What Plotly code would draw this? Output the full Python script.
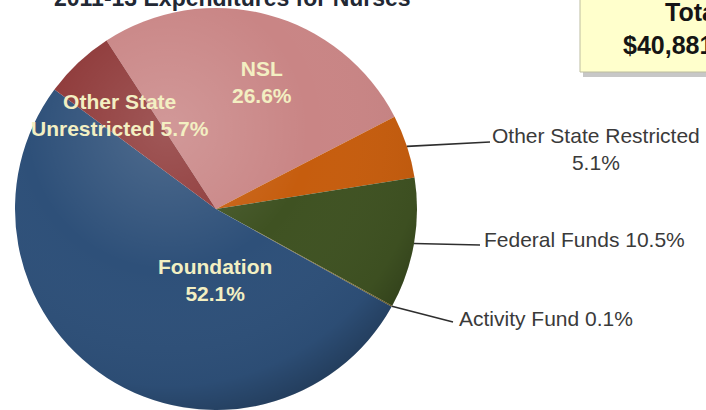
import math
import base64
import plotly.graph_objects as go

# ---- data ----
labels = ["NSL", "Other State Restricted", "Federal Funds", "Activity Fund",
          "Foundation", "Other State Unrestricted"]
values = [26.6, 5.1, 10.5, 0.1, 52.1, 5.7]
colors = ["#C98585", "#C65D0E", "#3F5222", "#7B6A2A", "#2E5079", "#8E3838"]
title_text = "2011-13 Expenditures for Nurses"
total_label = "Total"
total_value = "$40,881"

W, H = 706, 410
CX, CY, R = 216, 209, 201
ROT = -33

def px(x):
    return x / W

def py(y):
    return 1 - y / H

fig = go.Figure()
fig.add_trace(go.Pie(
    labels=labels, values=values, sort=False, direction="clockwise",
    rotation=ROT, marker=dict(colors=colors, line=dict(width=0)),
    textinfo="none", hoverinfo="label+percent", showlegend=False,
    domain=dict(x=[px(CX - R), px(CX + R)], y=[py(CY + R), py(CY - R)]),
))

# subtle 3D shading overlay on the pie
svg = ('<svg xmlns="http://www.w3.org/2000/svg" viewBox="0 0 100 100" preserveAspectRatio="none">'
       '<defs><radialGradient id="g" cx="0.38" cy="0.3" r="0.78">'
       '<stop offset="0" stop-color="#ffffff" stop-opacity="0.16"/>'
       '<stop offset="0.45" stop-color="#ffffff" stop-opacity="0.0"/>'
       '<stop offset="0.82" stop-color="#000000" stop-opacity="0.04"/>'
       '<stop offset="1" stop-color="#000000" stop-opacity="0.32"/>'
       '</radialGradient></defs>'
       '<circle cx="50" cy="50" r="50" fill="url(#g)"/></svg>')
img_src = "data:image/svg+xml;base64," + base64.b64encode(svg.encode()).decode()
fig.add_layout_image(dict(source=img_src, xref="paper", yref="paper",
                          x=px(CX - R), y=py(CY - R), sizex=2 * R / W, sizey=2 * R / H,
                          xanchor="left", yanchor="top", sizing="stretch", layer="above"))

# slice mid-angles computed from data
total = sum(values)
mids = {}
a = ROT
for lab, v in zip(labels, values):
    span = v / total * 360
    mids[lab] = a + span / 2
    a += span

def edge_pt(lab, f=1.0):
    ang = math.radians(mids[lab])
    return CX + R * f * math.sin(ang), CY - R * f * math.cos(ang)

annotations = []
shapes = []

inside_font = dict(family="Liberation Sans, Arial", size=21, color="#F3EFC2")
inside = [
    ("NSL", "NSL<br>" + f"{values[0]}%", 262, 82),
    ("Foundation", "Foundation<br>" + f"{values[4]}%", 215, 280),
    ("Other State Unrestricted", "Other State<br>Unrestricted " + f"{values[5]}%", 120, 115),
]
for lab, txt, x, y in inside:
    annotations.append(dict(text="<b>" + txt + "</b>", x=px(x), y=py(y), xref="paper", yref="paper",
                            showarrow=False, font=inside_font, align="center",
                            xanchor="center", yanchor="middle"))

out_font = dict(family="Liberation Sans, Arial", size=21, color="#3A3A3A")
outside = [
    ("Other State Restricted", f"Other State Restricted<br>{values[1]}%", 490, 142, 596, 149, "center"),
    ("Federal Funds", f"Federal Funds {values[2]}%", 480, 245, 482, 240, "left"),
    ("Activity Fund", f"Activity Fund {values[3]}%", 453, 322, 457, 318, "left"),
]
for lab, txt, lx, ly, tx, ty, anc in outside:
    sx, sy = edge_pt(lab)
    shapes.append(dict(type="line", xref="paper", yref="paper",
                       x0=px(sx), y0=py(sy), x1=px(lx), y1=py(ly),
                       line=dict(color="#2E2E2E", width=1.6)))
    annotations.append(dict(text=txt, x=px(tx), y=py(ty), xref="paper", yref="paper",
                            showarrow=False, font=out_font, align="center",
                            xanchor=anc, yanchor="middle"))

# title (mostly cut off at the top)
annotations.append(dict(text="<b>" + title_text + "</b>", x=px(232), y=py(-2), xref="paper", yref="paper",
                        showarrow=False, font=dict(family="Liberation Sans, Arial", size=23, color="#222834"),
                        xanchor="center", yanchor="middle"))

# total box
shapes.append(dict(type="rect", xref="paper", yref="paper", x0=px(583), x1=px(712), y0=py(77), y1=py(-10),
                   fillcolor="rgba(0,0,0,0.22)", line=dict(width=0)))
shapes.append(dict(type="rect", xref="paper", yref="paper", x0=px(580), x1=px(712), y0=py(72), y1=py(-10),
                   fillcolor="#FFFFCC", line=dict(color="#BDBDA0", width=1)))
box_font = dict(family="Liberation Sans, Arial", size=25, color="#151515")
annotations.append(dict(text="<b>" + total_label + "</b>", x=px(663), y=py(12), xref="paper", yref="paper",
                        showarrow=False, font=box_font, xanchor="left", yanchor="middle"))
annotations.append(dict(text="<b>" + total_value + "</b>", x=px(621), y=py(45), xref="paper", yref="paper",
                        showarrow=False, font=box_font, xanchor="left", yanchor="middle"))

fig.update_layout(width=W, height=H, margin=dict(l=0, r=0, t=0, b=0),
                  paper_bgcolor="white", plot_bgcolor="white",
                  annotations=annotations, shapes=shapes)
fig.write_html("out.html", config={"displayModeBar": False},
               post_script="document.body.style.margin='0';")
